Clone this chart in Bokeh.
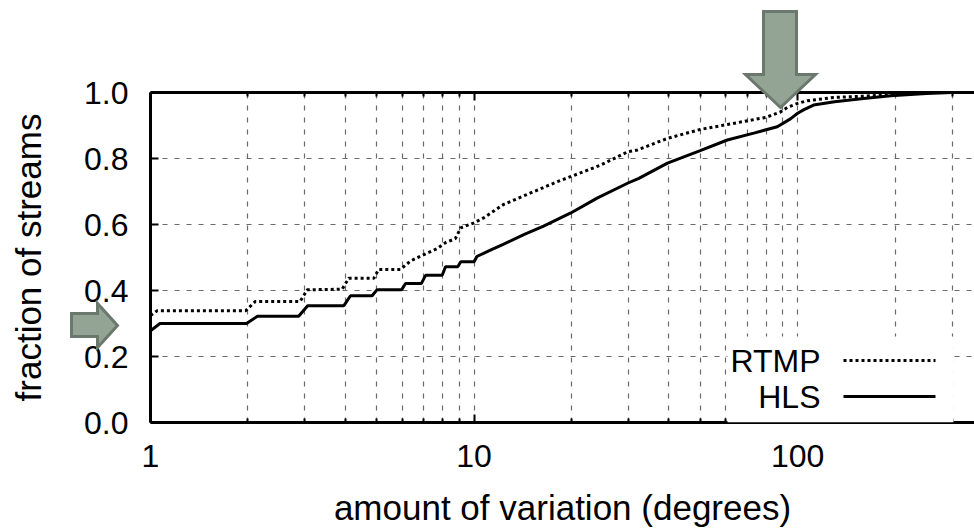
from bokeh.plotting import figure
from bokeh.models import (FixedTicker, NumeralTickFormatter, PrintfTickFormatter, LogAxis,
                          Label, Arrow, BoxAnnotation, Range1d)
from bokeh.embed import file_html
from bokeh.resources import INLINE

# ---- data ----
hls_x = [1, 1.07, 1.98, 2.14, 2.87, 3.06, 3.96, 4.15, 4.84, 5.01, 5.97, 6.14, 6.87, 7.08,
         7.97, 8.16, 8.9, 9.1, 10.0, 10.2, 11.1, 12.3, 14.3, 16.4, 19.9, 24.0, 29.8, 32.3,
         39.6, 50, 60.6, 73.2, 86.5, 95, 100, 104.6, 112, 130, 160, 194, 250, 300, 352]
hls_y = [0.278, 0.300, 0.300, 0.322, 0.322, 0.354, 0.354, 0.384, 0.384, 0.402, 0.402, 0.421,
         0.421, 0.446, 0.446, 0.472, 0.472, 0.487, 0.487, 0.503, 0.520, 0.540, 0.570, 0.595,
         0.635, 0.680, 0.725, 0.740, 0.786, 0.824, 0.856, 0.877, 0.896, 0.920, 0.937, 0.948,
         0.962, 0.972, 0.982, 0.990, 0.997, 1.0, 1.0]

rtmp_x = [1, 1.05, 1.97, 2.11, 2.9, 3.05, 3.91, 4.1, 4.9, 5.07, 5.93, 6.35, 6.83, 7.7, 8.16,
          8.75, 9.1, 10, 10.7, 12.3, 14.9, 18.1, 21.8, 24.6, 29.8, 32, 39.6, 50, 63, 80, 88.5,
          93, 100, 107, 129, 152, 197, 230, 352]
rtmp_y = [0.324, 0.339, 0.339, 0.367, 0.367, 0.402, 0.404, 0.437, 0.437, 0.464, 0.464, 0.489,
          0.504, 0.527, 0.545, 0.557, 0.590, 0.605, 0.620, 0.660, 0.695, 0.730, 0.760, 0.780,
          0.820, 0.826, 0.861, 0.888, 0.906, 0.925, 0.941, 0.955, 0.967, 0.975, 0.985, 0.988,
          0.993, 1.0, 1.0]

x_major = [1, 10, 100]
x_minor = [2, 3, 4, 5, 6, 7, 8, 9, 20, 30, 40, 50, 60, 70, 80, 90, 200, 300]
y_ticks = [0.0, 0.2, 0.4, 0.6, 0.8, 1.0]
y_grid = [0.2, 0.4, 0.6, 0.8]
series_names = ["RTMP", "HLS"]

# highlight arrow outlines (page pixel coordinates, drawn on a transparent overlay)
top_arrow_x = [763, 796, 796, 815, 780, 745, 763]
top_arrow_y = [11, 11, 74, 74, 107, 74, 74]
left_arrow_x = [71, 97, 97, 117, 97, 97, 71]
left_arrow_y = [313, 313, 303, 325, 347, 336, 336]

FONT = "Liberation Sans"
FS = "32px"
FS_LABEL = "35px"

p = figure(width=974, height=529, x_axis_type="log", x_range=Range1d(1, 352),
           y_range=Range1d(0, 1), output_backend="svg", toolbar_location=None,
           min_border_left=150, min_border_right=0, min_border_top=92, min_border_bottom=105)
p.outline_line_color = None
p.background_fill_color = "white"
p.border_fill_color = "white"

# grids
p.xgrid.ticker = FixedTicker(ticks=x_minor + [10, 100])
p.ygrid.ticker = FixedTicker(ticks=y_grid)
for g in (p.xgrid, p.ygrid):
    g.grid_line_color = "#6a6a6a"
    g.grid_line_dash = "5 7"
    g.grid_line_width = 1.2

# axes
xa = p.xaxis[0]
xa.ticker = FixedTicker(ticks=x_major, minor_ticks=x_minor)
xa.formatter = NumeralTickFormatter(format="0")
ya = p.yaxis[0]
ya.ticker = FixedTicker(ticks=y_ticks)
ya.formatter = PrintfTickFormatter(format="%.1f")

top = LogAxis(ticker=FixedTicker(ticks=x_major, minor_ticks=x_minor))
p.add_layout(top, "above")

for ax in (xa, ya, top):
    ax.axis_line_width = 3
    ax.axis_line_color = "black"
    ax.major_tick_in = 8
    ax.major_tick_out = 0
    ax.minor_tick_in = 4
    ax.minor_tick_out = 0
    ax.major_tick_line_width = 2
    ax.minor_tick_line_width = 2
    ax.major_tick_line_color = "black"
    ax.minor_tick_line_color = "black"
    ax.major_label_text_font = FONT
    ax.major_label_text_font_size = FS
    ax.major_label_text_color = "black"
    ax.axis_label_text_font = FONT
    ax.axis_label_text_font_size = FS_LABEL
    ax.axis_label_text_font_style = "normal"
    ax.axis_label_text_color = "black"
    ax.major_label_standoff = 22
top.major_label_standoff = 0
top.major_label_text_font_size = "1px"
top.major_label_text_color = None

xa.axis_label = "amount of variation (degrees)"
xa.axis_label_standoff = 18
ya.axis_label = "fraction of streams"
ya.axis_label_standoff = 33

# data lines
p.line(rtmp_x, rtmp_y, line_color="black", line_width=3, line_dash="3 3")
p.line(hls_x, hls_y, line_color="black", line_width=3)

# legend (gnuplot style: label left of sample, opaque box)
p.add_layout(BoxAnnotation(left=577, right=803, bottom=0, top=86,
                           left_units="screen", right_units="screen",
                           top_units="screen", bottom_units="screen",
                           fill_color="white", fill_alpha=1, line_color=None))
for name, sy, dash in [(series_names[0], 62, "3 3"), (series_names[1], 26, "solid")]:
    p.add_layout(Label(x=670, y=sy, x_units="screen", y_units="screen", text=name,
                       text_align="right", text_baseline="middle", text_font=FONT,
                       text_font_size=FS, text_color="black"))
    p.add_layout(Arrow(end=None, start=None, x_start=693, y_start=sy, x_end=785, y_end=sy,
                       start_units="screen", end_units="screen",
                       line_color="black", line_width=3, line_dash=dash))

# transparent overlay (separate root) carrying the two highlight arrows
ov = figure(width=974, height=529, x_range=Range1d(0, 974), y_range=Range1d(529, 0),
            output_backend="svg", toolbar_location=None, min_border=0,
            x_axis_location=None, y_axis_location=None,
            styles={"position": "absolute", "left": "0px", "top": "0px",
                    "z-index": "5", "pointer-events": "none"})
ov.grid.visible = False
ov.outline_line_color = None
ov.background_fill_alpha = 0
ov.border_fill_alpha = 0
for xs, ys in [(top_arrow_x, top_arrow_y), (left_arrow_x, left_arrow_y)]:
    ov.patch(xs, ys, fill_color="#93a394", line_color="#6b786d", line_width=3,
             line_join="miter")

open("out.html", "w").write(file_html([p, ov], INLINE))
